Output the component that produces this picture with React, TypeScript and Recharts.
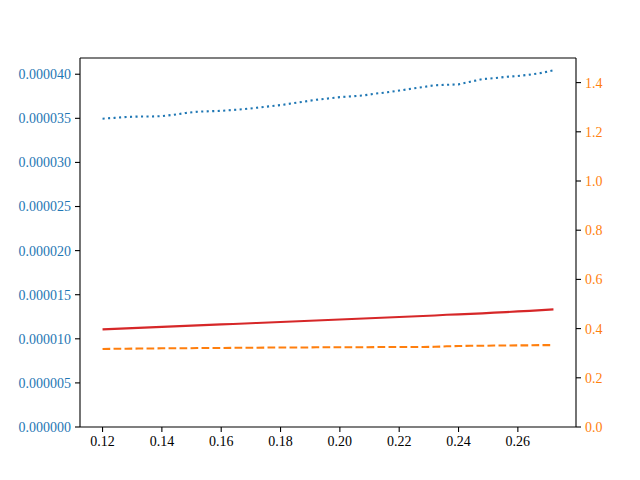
import { LineChart, Line, XAxis, YAxis, ReferenceLine } from "recharts";

const xValues = [
  0.12, 0.124, 0.128, 0.132, 0.136, 0.14, 0.144, 0.148, 0.152, 0.156, 0.16, 0.164, 0.168,
  0.172, 0.176, 0.18, 0.184, 0.188, 0.192, 0.196, 0.2, 0.204, 0.208, 0.212, 0.216, 0.22,
  0.224, 0.228, 0.232, 0.236, 0.24, 0.244, 0.248, 0.252, 0.256, 0.26, 0.264, 0.268, 0.272,
];

// left axis series
const blueValues = [
  3.496e-5, 3.505e-5, 3.515e-5, 3.52e-5, 3.52e-5, 3.525e-5, 3.54e-5, 3.56e-5, 3.575e-5,
  3.58e-5, 3.585e-5, 3.595e-5, 3.605e-5, 3.62e-5, 3.635e-5, 3.65e-5, 3.67e-5, 3.69e-5,
  3.71e-5, 3.725e-5, 3.74e-5, 3.75e-5, 3.76e-5, 3.78e-5, 3.795e-5, 3.815e-5, 3.835e-5,
  3.855e-5, 3.875e-5, 3.88e-5, 3.885e-5, 3.915e-5, 3.945e-5, 3.955e-5, 3.97e-5, 3.98e-5,
  3.995e-5, 4.015e-5, 4.045e-5,
];

// right axis series
const redValues = [
  0.397, 0.399, 0.401, 0.403, 0.405, 0.407, 0.409, 0.411, 0.413, 0.415, 0.417, 0.419, 0.421,
  0.423, 0.425, 0.427, 0.429, 0.431, 0.433, 0.435, 0.437, 0.439, 0.441, 0.443, 0.445, 0.447,
  0.449, 0.451, 0.453, 0.456, 0.458, 0.46, 0.462, 0.465, 0.467, 0.47, 0.472, 0.475, 0.478,
];

const orangeValues = [
  0.317, 0.318, 0.318, 0.319, 0.319, 0.32, 0.32, 0.32, 0.321, 0.321, 0.321, 0.322, 0.322,
  0.322, 0.323, 0.323, 0.323, 0.323, 0.324, 0.324, 0.324, 0.324, 0.324, 0.325, 0.325, 0.325,
  0.325, 0.325, 0.326, 0.328, 0.329, 0.33, 0.33, 0.331, 0.331, 0.332, 0.332, 0.333, 0.333,
];

const xTicks = [0.12, 0.14, 0.16, 0.18, 0.2, 0.22, 0.24, 0.26];
const leftTicks = [0, 5e-6, 1e-5, 1.5e-5, 2e-5, 2.5e-5, 3e-5, 3.5e-5, 4e-5];
const rightTicks = [0, 0.2, 0.4, 0.6, 0.8, 1.0, 1.2, 1.4];

const LEFT_MAX = 4.184e-5;

const data = xValues.map((x, i) => ({
  x,
  blue: blueValues[i],
  red: redValues[i],
  orange: orangeValues[i],
}));

const font = { fontFamily: "'Liberation Serif', serif", fontSize: 14 };
const axisLine = { stroke: "#000", strokeWidth: 1.1 };

export default function App() {
  return (
    <div style={{ position: "absolute", left: 0, top: 0, background: "#fff" }}>
      <LineChart width={640} height={480} data={data} margin={{ top: 58, right: 0, bottom: 0, left: 0 }}>
        <XAxis
          dataKey="x"
          type="number"
          domain={[0.1124, 0.2796]}
          ticks={xTicks}
          tickFormatter={(v: number) => v.toFixed(2)}
          height={53}
          tickSize={5}
          tickMargin={4}
          axisLine={axisLine}
          tickLine={axisLine}
          tick={{ ...font, fill: "#000" }}
          allowDataOverflow
        />
        <YAxis
          yAxisId="left"
          domain={[0, LEFT_MAX]}
          ticks={leftTicks}
          tickFormatter={(v: number) => v.toFixed(6)}
          width={80}
          tickSize={5}
          tickMargin={4}
          axisLine={axisLine}
          tickLine={axisLine}
          tick={{ ...font, fill: "#1f77b4" }}
          allowDataOverflow
        />
        <YAxis
          yAxisId="right"
          orientation="right"
          domain={[0, 1.5]}
          ticks={rightTicks}
          tickFormatter={(v: number) => v.toFixed(1)}
          width={64}
          tickSize={5}
          tickMargin={4}
          axisLine={axisLine}
          tickLine={axisLine}
          tick={{ ...font, fill: "#ff7f0e", textAnchor: "start" }}
          allowDataOverflow
        />
        {/* top spine */}
        <ReferenceLine yAxisId="left" y={LEFT_MAX} stroke="#000" strokeWidth={1.1} />
        <Line
          yAxisId="left"
          type="linear"
          dataKey="blue"
          stroke="#1f77b4"
          strokeWidth={2.1}
          strokeDasharray="2.1 3.4"
          dot={false}
          isAnimationActive={false}
        />
        <Line
          yAxisId="right"
          type="linear"
          dataKey="orange"
          stroke="#ff7f0e"
          strokeWidth={2.1}
          strokeDasharray="7.7 3.3"
          dot={false}
          isAnimationActive={false}
        />
        <Line
          yAxisId="right"
          type="linear"
          dataKey="red"
          stroke="#d62728"
          strokeWidth={2.1}
          dot={false}
          isAnimationActive={false}
        />
      </LineChart>
    </div>
  );
}
